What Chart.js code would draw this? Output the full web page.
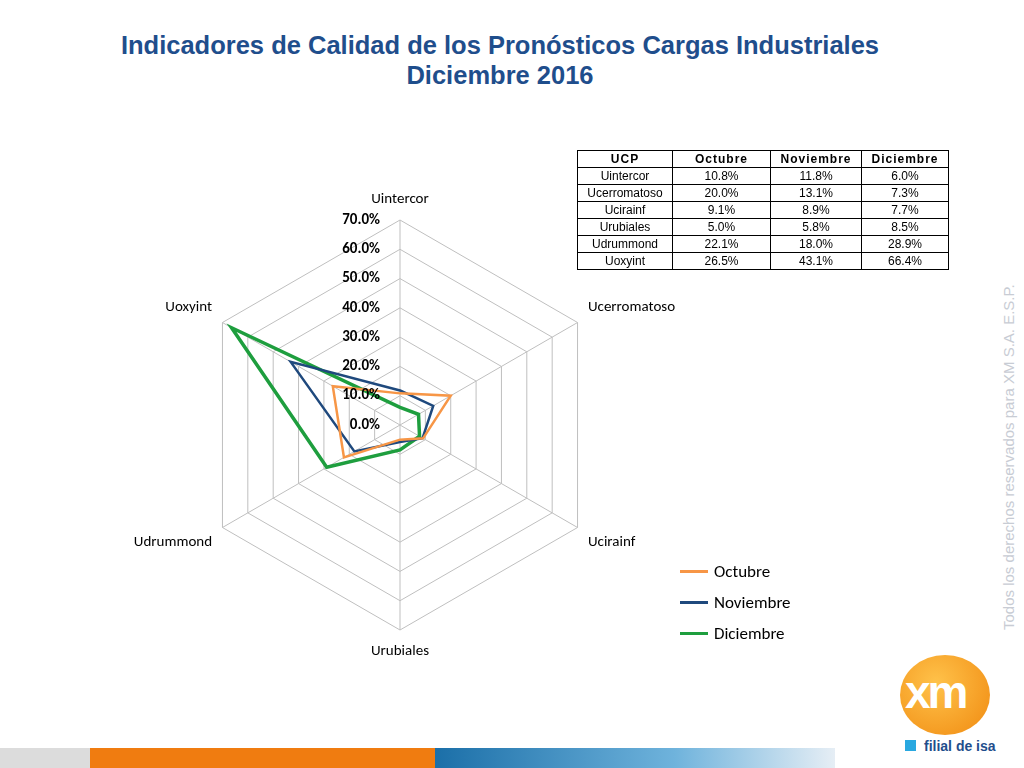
<!DOCTYPE html>
<html><head><meta charset="utf-8">
<script src="https://cdn.jsdelivr.net/npm/chart.js@4"></script>
<style>
body{margin:0;width:1024px;height:768px;background:#fff;position:relative;overflow:hidden;font-family:"Liberation Sans",Arial,sans-serif}
#title{position:absolute;top:30px;left:0;width:1000px;text-align:center;color:#1f4e8c;font-weight:bold;font-size:25.5px;line-height:30px}
#wrap{position:absolute;left:106px;top:170px;width:600px;height:500px}
table{position:absolute;left:577px;top:150px;border-collapse:collapse;font-size:12px}
td,th{border:1px solid #000;padding:0 4px;height:16px;text-align:center}
th{font-weight:bold;letter-spacing:1px}
td:first-child{width:86px}td:nth-child(2),th:nth-child(2){width:89px}td:nth-child(3),th:nth-child(3){width:82px}td:nth-child(4),th:nth-child(4){width:78px}
#legend{position:absolute;left:680px;top:556px;font-family:Carlito,Calibri,"Open Sans",sans-serif;font-size:17px}
#legend div{height:31px;display:flex;align-items:center}
#legend span{display:inline-block;width:28px;height:3px;margin-right:6px}
#side{position:absolute;left:1000px;top:630px;transform-origin:0 0;transform:rotate(-90deg);color:#c8ccd4;font-size:15px;white-space:nowrap}
#bar1{position:absolute;left:0;top:748px;width:90px;height:20px;background:#dcdcdc}
#bar2{position:absolute;left:90px;top:748px;width:345px;height:20px;background:#f07c10}
#bar3{position:absolute;left:435px;top:748px;width:400px;height:20px;background:linear-gradient(90deg,#1b6fa8,#6fb3dc 60%,#e6eef5)}
#logo{position:absolute;left:900px;top:655px;width:90px;height:80px;border-radius:50%;background:radial-gradient(circle at 40% 35%,#ffc24a,#f08a10)}
#logo b{position:absolute;left:5px;top:10px;font-size:46px;color:#fff;font-family:"Liberation Sans";letter-spacing:-3px}
#fil{position:absolute;left:905px;top:738px;font-size:14px;color:#1f4e8c;font-weight:bold}
#fil i{display:inline-block;width:11px;height:11px;background:#29a8e0;margin-right:8px}
</style></head><body>
<div id="title">Indicadores de Calidad de los Pronósticos Cargas Industriales<br>Diciembre 2016</div>
<div id="wrap"><canvas id="c"></canvas></div>
<table id="t"></table>
<div id="legend"></div>
<div id="side">Todos los derechos reservados para XM S.A. E.S.P.</div>
<div id="bar1"></div><div id="bar2"></div><div id="bar3"></div>
<div id="logo"><b>xm</b></div>
<div id="fil"><i></i>filial de isa</div>
<script>
const categories=["Uintercor","Ucerromatoso","Ucirainf","Urubiales","Udrummond","Uoxyint"];
const octubre=[10.8,20.0,9.1,5.0,22.1,26.5];
const noviembre=[11.8,13.1,8.9,5.8,18.0,43.1];
const diciembre=[6.0,7.3,7.7,8.5,28.9,66.4];
const seriesNames=["Octubre","Noviembre","Diciembre"];
const colors=["#f79646","#1f497d","#1e9e3e"];
const widths=[2.5,2.5,3.5];
const tickLabels=["0.0%","10.0%","20.0%","30.0%","40.0%","50.0%","60.0%","70.0%"];
const all=[octubre,noviembre,diciembre];
let h='<tr><th>UCP</th>'+seriesNames.map(s=>'<th>'+s+'</th>').join('')+'</tr>';
categories.forEach((c,i)=>{h+='<tr><td>'+c+'</td>'+all.map(a=>'<td>'+a[i].toFixed(1)+'%</td>').join('')+'</tr>'});
document.getElementById('t').innerHTML=h;
document.getElementById('legend').innerHTML=seriesNames.map((s,i)=>'<div><span style="background:'+colors[i]+'"></span>'+s+'</div>').join('');
const tickPlugin={id:'tk',afterDatasetsDraw(ch){const s=ch.scales.r,ctx=ch.ctx;ctx.save();ctx.font='bold 15px Carlito, Calibri, "Open Sans", sans-serif';ctx.fillStyle='#000';ctx.textAlign='right';ctx.textBaseline='middle';
tickLabels.forEach((t,i)=>{const d=s.getDistanceFromCenterForValue(i*10);ctx.fillText(t,s.xCenter-20,s.yCenter-d);});ctx.restore();}};
new Chart(document.getElementById('c'),{type:'radar',
data:{labels:categories,datasets:all.map((a,i)=>({label:seriesNames[i],data:a,borderColor:colors[i],borderWidth:widths[i],fill:false,pointRadius:0,tension:0}))},
options:{responsive:true,maintainAspectRatio:false,animation:false,layout:{padding:{top:20,bottom:10,left:10,right:10}},
plugins:{legend:{display:false},tooltip:{enabled:false}},
scales:{r:{min:0,max:70,ticks:{stepSize:10,display:false},grid:{color:'#bfbfbf'},angleLines:{color:'#bfbfbf'},
pointLabels:{font:{size:15,family:'Carlito, Calibri, "Open Sans", sans-serif'},color:'#000',padding:12}}}},
plugins:[tickPlugin]});
</script>
</body></html>
